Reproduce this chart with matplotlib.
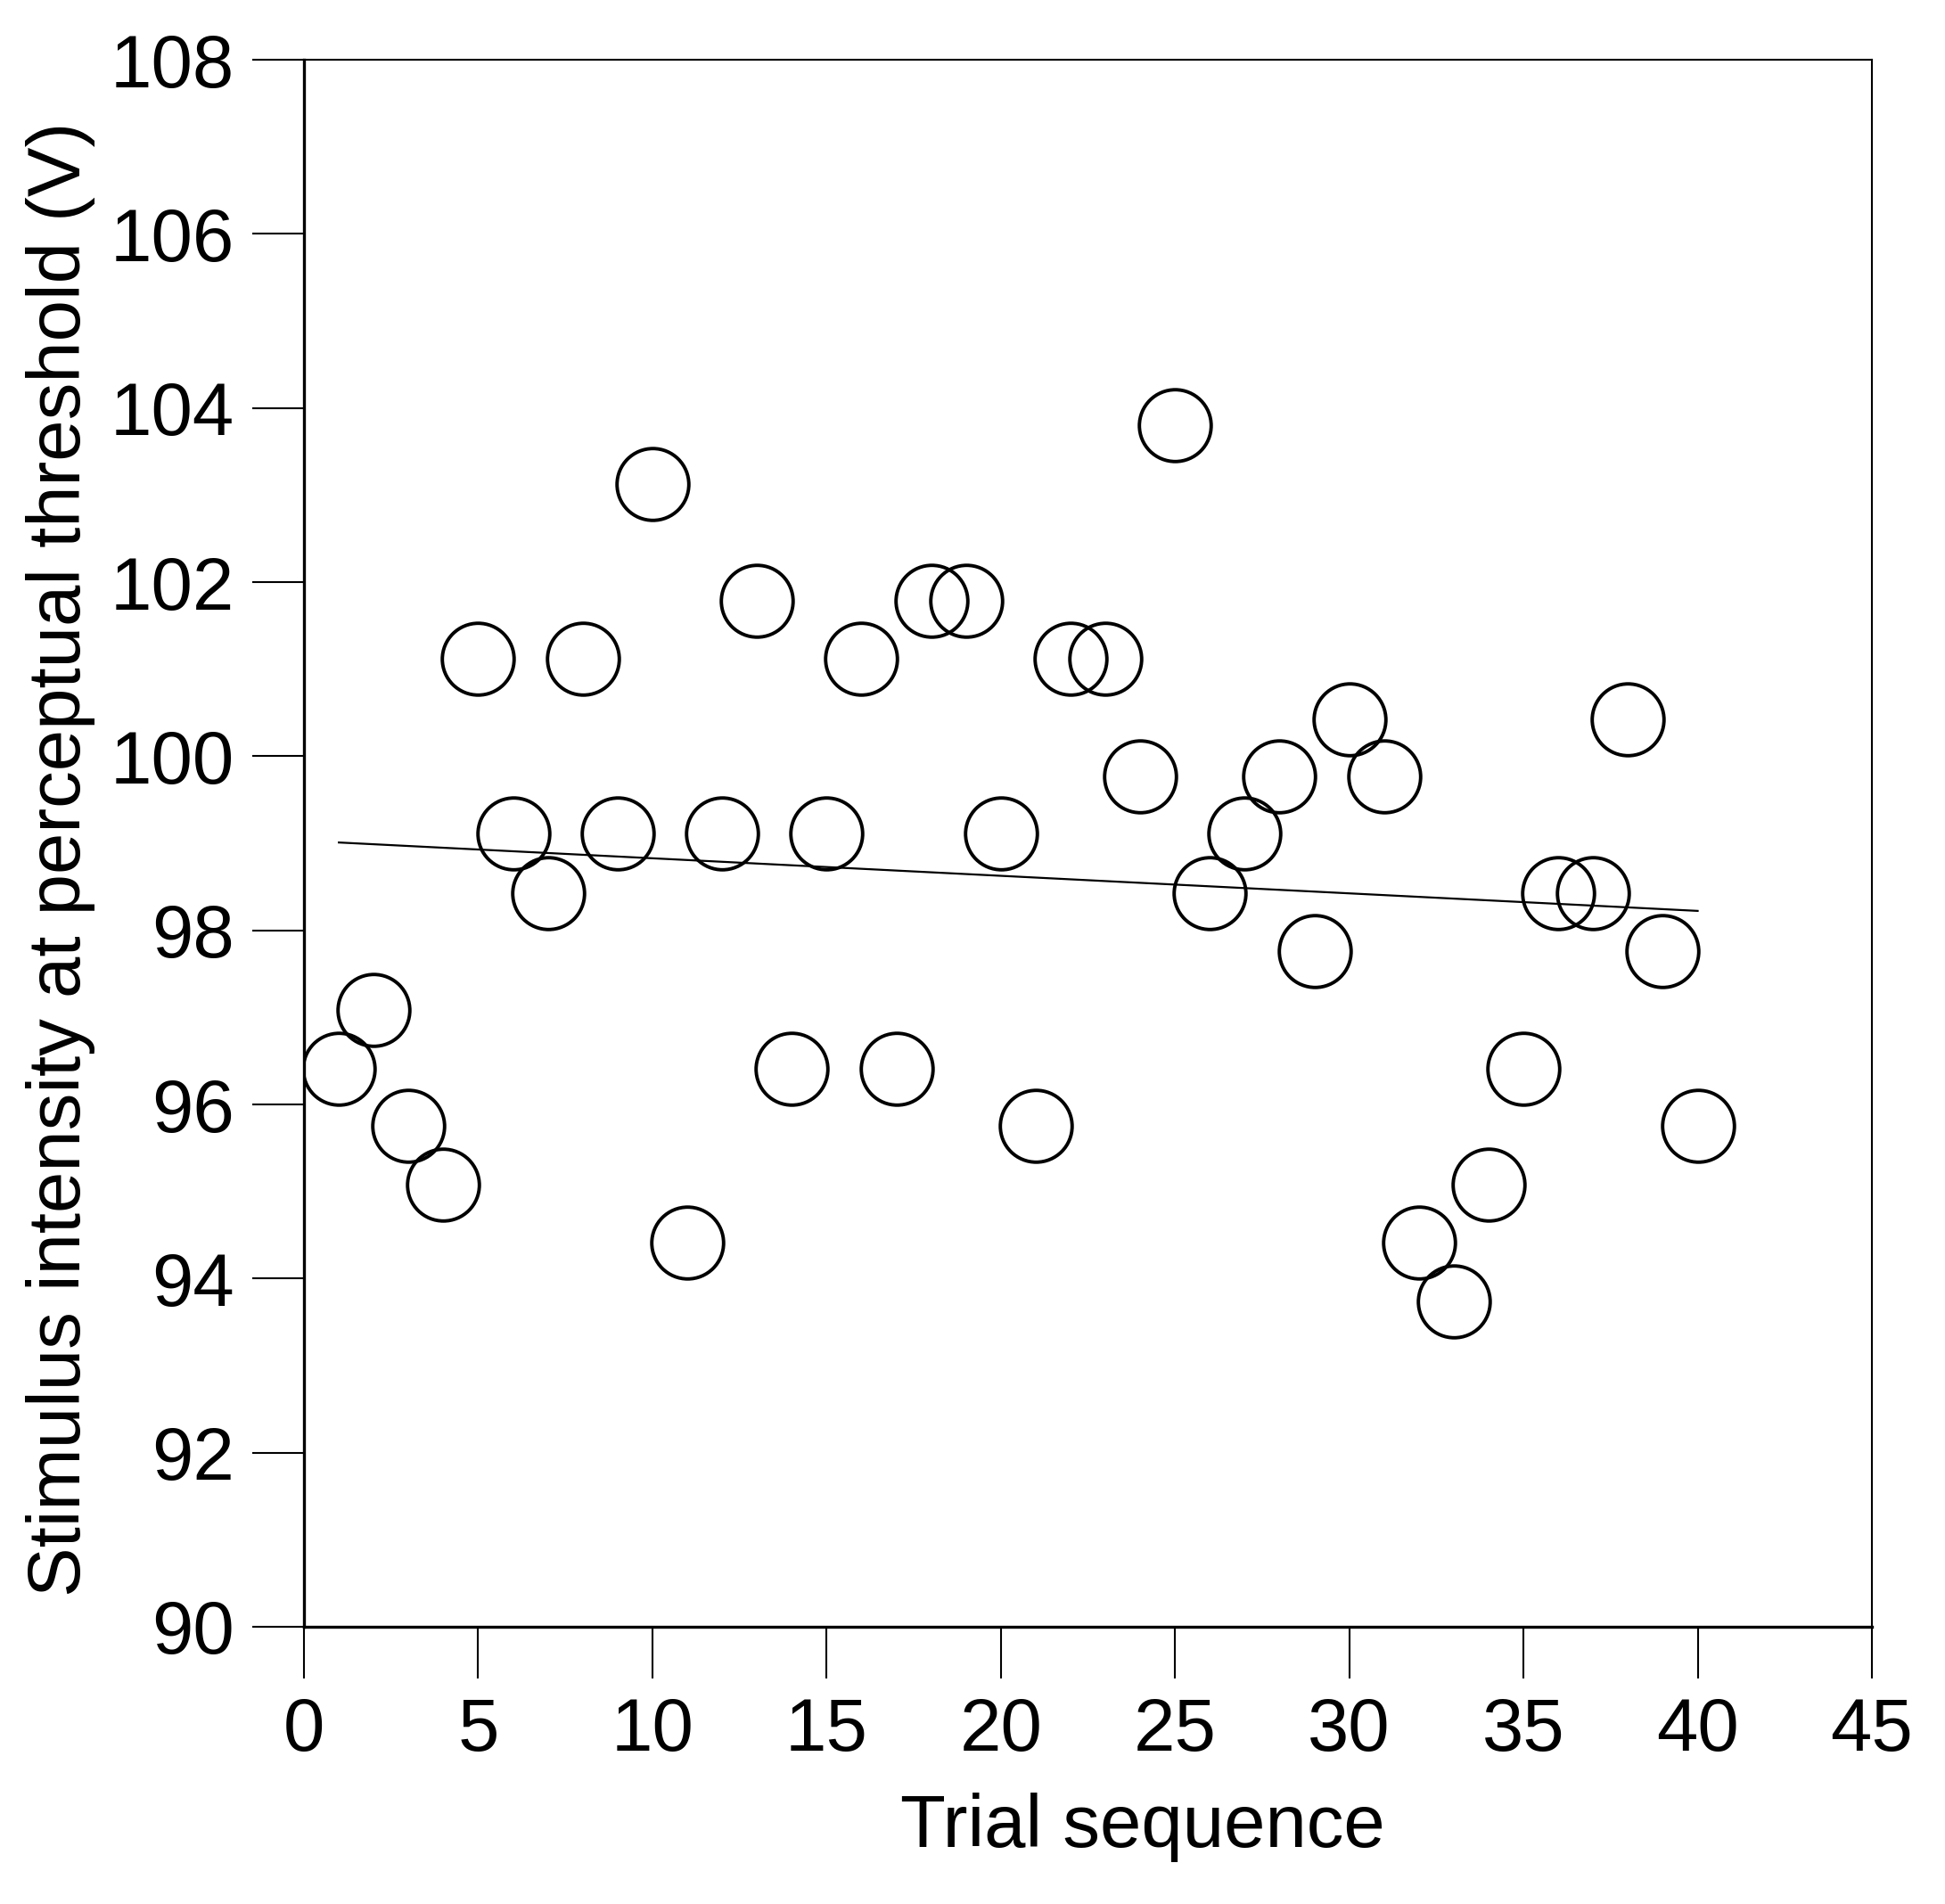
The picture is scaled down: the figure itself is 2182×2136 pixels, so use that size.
import numpy as np
import matplotlib
matplotlib.use("Agg")
from matplotlib import pyplot as plt

# trial number and threshold voltage
trials = list(range(1, 41))
threshold = [96.41, 97.09, 95.75, 95.08, 101.12, 99.11, 98.43, 101.12, 99.11, 103.13,
             94.41, 99.11, 101.79, 96.41, 99.11, 101.12, 96.41, 101.79, 101.79, 99.11,
             95.75, 101.12, 101.12, 99.77, 103.80, 98.43, 99.11, 99.77, 97.76, 100.42,
             99.77, 94.41, 93.74, 95.08, 96.41, 98.43, 98.43, 100.42, 97.76, 95.75]

x_ticks = [0, 5, 10, 15, 20, 25, 30, 35, 40, 45]
y_ticks = [90, 92, 94, 96, 98, 100, 102, 104, 106, 108]

plt.rcParams['font.family'] = ['Liberation Sans', 'DejaVu Sans']

fig = plt.figure(figsize=(21.82, 21.36), dpi=100)
ax = fig.add_axes([0.1563, 0.1456, 0.8061, 0.8230])

ax.plot(trials, threshold, linestyle='none', marker='o', markersize=58,
        markerfacecolor='none', markeredgecolor='black', markeredgewidth=2.8)

# linear trend
slope, icpt = np.polyfit(trials, threshold, 1)
xs = np.array([trials[0], trials[-1]])
ax.plot(xs, slope * xs + icpt, color='black', linewidth=1.6)

ax.set_xlim(0, 45)
ax.set_ylim(90, 108)
ax.set_xticks(x_ticks)
ax.set_yticks(y_ticks)
ax.tick_params(axis='y', direction='out', length=42, width=1.5, pad=14, labelsize=60)
ax.tick_params(axis='x', direction='out', length=42, width=1.5, pad=14, labelsize=60)

# tick numbers are in a narrow face
for lab in ax.get_xticklabels() + ax.get_yticklabels():
    lab.set_fontfamily(['Liberation Sans Narrow', 'Liberation Sans', 'DejaVu Sans'])

ax.xaxis.get_major_ticks()[0].tick1line.set_color('#9a9a9a')
ax.yaxis.get_major_ticks()[0].tick1line.set_color('#555555')

for side in ['left', 'bottom']:
    ax.spines[side].set_linewidth(2.4)
for side in ['top', 'right']:
    ax.spines[side].set_linewidth(1.5)

ax.set_xlabel('Trial sequence', fontsize=60)
ax.set_ylabel('Stimulus intensity at perceptual threshold (V)', fontsize=60)
ax.xaxis.set_label_coords(0.535, -0.106)
ax.yaxis.set_label_coords(-0.133, 0.49)

fig.savefig('out.png', dpi=100)
